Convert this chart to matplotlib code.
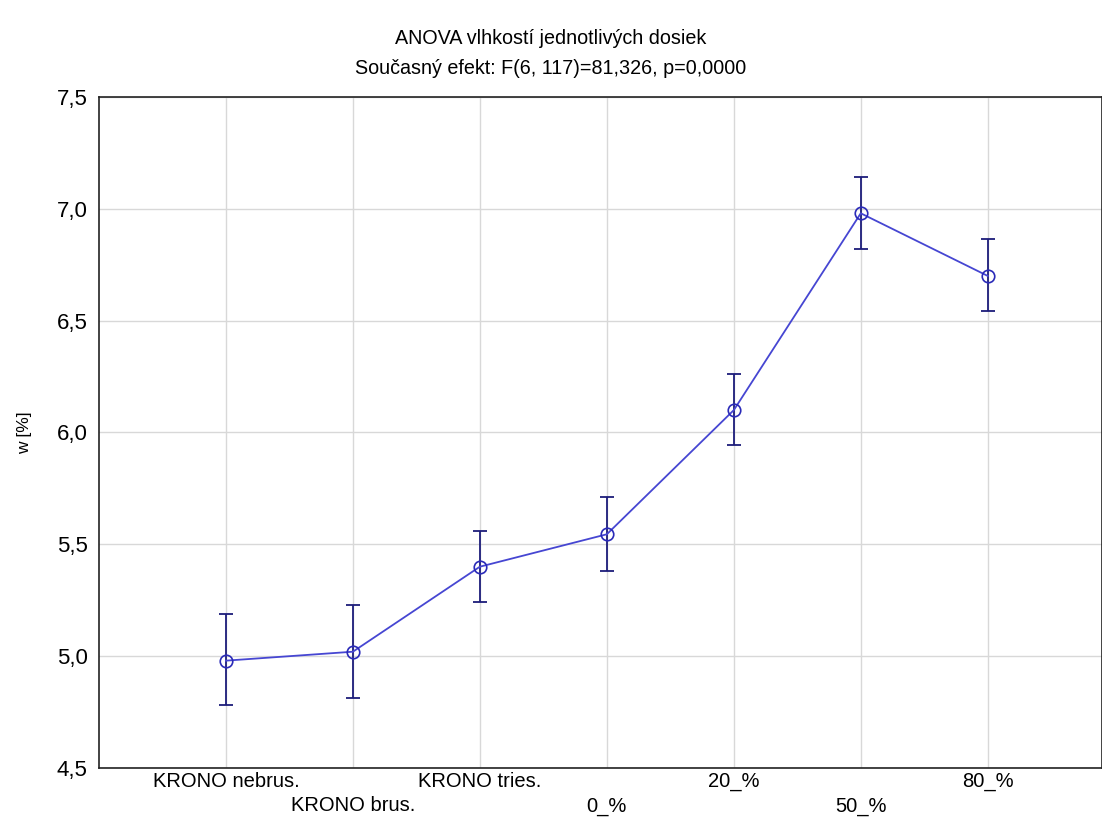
import numpy as np
import matplotlib.pyplot as plt
from matplotlib.ticker import FuncFormatter

plt.rcParams['font.family'] = ['Liberation Sans', 'DejaVu Sans']

# data
groups = ['KRONO nebrus.', 'KRONO brus.', 'KRONO tries.', '0_%', '20_%', '50_%', '80_%']
means = [4.98, 5.02, 5.40, 5.545, 6.10, 6.98, 6.70]
upper = [5.19, 5.23, 5.56, 5.71, 6.26, 7.14, 6.865]
lower = [4.78, 4.815, 5.24, 5.38, 5.945, 6.82, 6.545]

x = np.arange(1, len(groups) + 1)
err = [np.array(means) - np.array(lower), np.array(upper) - np.array(means)]

fig = plt.figure(figsize=(11.02, 8.33), dpi=100)
ax = fig.add_axes([0.0898, 0.078, 0.9102, 0.8056])

ax.errorbar(x, means, yerr=err, fmt='none', ecolor='#1c1c7a', elinewidth=1.3,
            capsize=4.8, capthick=1.3, zorder=3)
ax.plot(x, means, color='#4646d2', lw=1.3, marker='o', markersize=9,
        markerfacecolor='none', markeredgecolor='#2a2ab8', markeredgewidth=1.2, zorder=4)

ax.set_xlim(0, 7.9)
ax.set_ylim(4.5, 7.5)
ax.set_xticks(x)
labels = [g if i % 2 == 0 else '\n' + g for i, g in enumerate(groups)]
ax.set_xticklabels(labels, fontsize=14.5, linespacing=1.35)
ax.set_yticks(np.arange(4.5, 7.51, 0.5))
ax.yaxis.set_major_formatter(FuncFormatter(lambda v, p: ('%.1f' % v).replace('.', ',')))
ax.tick_params(axis='y', labelsize=16, length=0, pad=8)
ax.tick_params(axis='x', length=0, pad=3)
ax.grid(True, color='#d8d8d8', lw=1)
for s in ax.spines.values():
    s.set_color('#222222')
    s.set_linewidth(1.2)
ax.set_ylabel('w [%]', fontsize=12.5, labelpad=18)

fig.text(0.5, 0.954, 'ANOVA vlhkostí jednotlivých dosiek', ha='center', va='center', fontsize=14.2)
fig.text(0.5, 0.918, 'Současný efekt: F(6, 117)=81,326, p=0,0000', ha='center', va='center', fontsize=14.2)

fig.savefig('out.png', dpi=100)
